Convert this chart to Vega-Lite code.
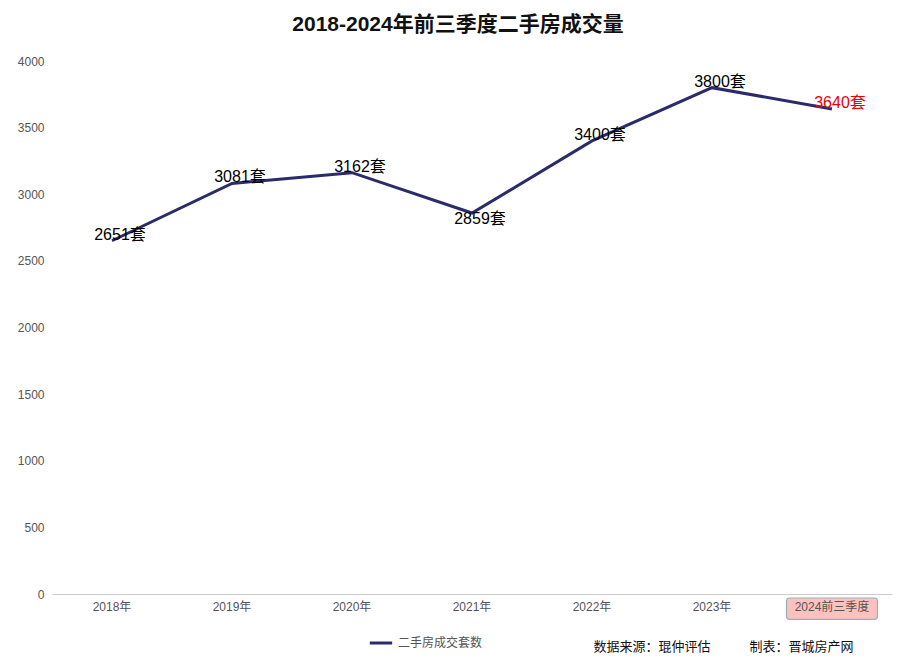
{
  "$schema": "https://vega.github.io/schema/vega-lite/v6.json",
  "autosize": "none",
  "padding": {"left": 52, "top": 61, "right": 15, "bottom": 71},
  "width": 840,
  "height": 533,
  "background": "#ffffff",
  "view": {"stroke": null},
  "config": {"font": "Liberation Sans, Noto Sans CJK SC"},
  "title": {
    "text": "2018-2024年前三季度二手房成交量",
    "fontSize": 21,
    "fontWeight": "bold",
    "color": "#111111",
    "anchor": "middle",
    "offset": 20,
    "dx": -14,
    "font": "Liberation Sans, Noto Sans CJK SC"
  },
  "data": {
    "values": [
      {"year": "2018年", "value": 2651},
      {"year": "2019年", "value": 3081},
      {"year": "2020年", "value": 3162},
      {"year": "2021年", "value": 2859},
      {"year": "2022年", "value": 3400},
      {"year": "2023年", "value": 3800},
      {"year": "2024前三季度", "value": 3640}
    ]
  },
  "encoding": {
    "x": {
      "field": "year",
      "type": "nominal",
      "sort": ["2018年", "2019年", "2020年", "2021年", "2022年", "2023年", "2024前三季度"],
      "scale": {"type": "band", "paddingInner": 0, "paddingOuter": 0},
      "axis": {
        "title": "数据来源：琨仲评估\u3000\u3000\u3000制表：晋城房产网",
        "titleFontSize": 13,
        "titleFontWeight": "normal",
        "titleColor": "#111111",
        "titleAlign": "right",
        "titleAnchor": "end",
        "titleBaseline": "middle",
        "titleX": 801,
        "titleY": 52,
        "labelAngle": 0,
        "labelFontSize": 12,
        "labelColor": "#555555",
        "labelPadding": 7,
        "ticks": false,
        "domainColor": "#cccccc",
        "grid": false,
        "zindex": 1
      }
    }
  },
  "layer": [
    {
      "transform": [{"filter": "datum.year == '2024前三季度'"}],
      "mark": {
        "type": "bar",
        "width": 91,
        "fill": "#ffc0c0",
        "stroke": "#8fb3bb",
        "strokeWidth": 1.2,
        "cornerRadius": 3
      },
      "encoding": {
        "y": {"datum": -30},
        "y2": {"datum": -190}
      }
    },
    {
      "mark": {"type": "line", "strokeWidth": 3},
      "encoding": {
        "y": {
          "field": "value",
          "type": "quantitative",
          "scale": {"domain": [0, 4000], "nice": false},
          "axis": {
            "title": null,
            "values": [0, 500, 1000, 1500, 2000, 2500, 3000, 3500, 4000],
            "format": "d",
            "labelFontSize": 12,
            "labelColor": "#555555",
            "labelPadding": 8,
            "ticks": false,
            "domain": false,
            "gridColor": "#e6e6e6"
          }
        },
        "color": {
          "datum": "二手房成交套数",
          "type": "nominal",
          "scale": {"range": ["#2b2a6b"]},
          "legend": {
            "title": null,
            "orient": "none",
            "legendX": 316,
            "legendY": 569,
            "symbolType": "stroke",
            "symbolSize": 500,
            "symbolStrokeWidth": 3,
            "labelFontSize": 12,
            "labelColor": "#555555",
            "labelOffset": 4
          }
        }
      }
    },
    {
      "transform": [
        {"filter": "datum.year != '2021年'"},
        {"calculate": "datum.value + '套'", "as": "label"}
      ],
      "mark": {"type": "text", "fontSize": 16, "dx": 8, "dy": -6, "baseline": "middle", "align": "center"},
      "encoding": {
        "y": {"field": "value", "type": "quantitative"},
        "text": {"field": "label"},
        "color": {
          "condition": {"test": "datum.year == '2024前三季度'", "value": "#e8000b"},
          "value": "#000000"
        }
      }
    },
    {
      "transform": [
        {"filter": "datum.year == '2021年'"},
        {"calculate": "datum.value + '套'", "as": "label"}
      ],
      "mark": {"type": "text", "fontSize": 16, "dx": 8, "dy": 6, "baseline": "middle", "align": "center", "color": "#000000"},
      "encoding": {
        "y": {"field": "value", "type": "quantitative"},
        "text": {"field": "label"}
      }
    }
  ]
}
